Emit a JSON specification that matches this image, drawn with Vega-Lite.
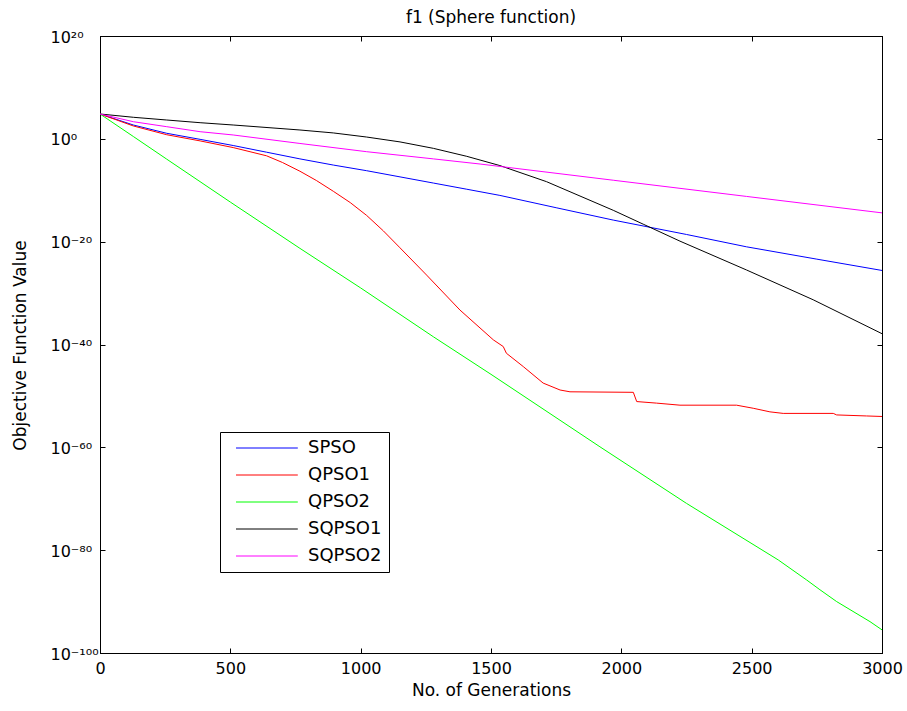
{
  "$schema": "https://vega.github.io/schema/vega-lite/v6.json",
  "width": 782,
  "height": 617,
  "autosize": "none",
  "padding": {"left": 100, "top": 36, "right": 25, "bottom": 58},
  "background": "white",
  "title": {"text": "f1 (Sphere function)", "fontSize": 17, "fontWeight": "normal", "font": "DejaVu Sans", "color": "black", "offset": 2},
  "config": {"view": {"stroke": "black", "strokeWidth": 1}, "font": "DejaVu Sans"},
  "data": {"values": [
    {"method": "SPSO", "gen": 0, "value": 6.76e4},
    {"method": "SPSO", "gen": 128, "value": 4.9e2},
    {"method": "SPSO", "gen": 256, "value": 1.2e1},
    {"method": "SPSO", "gen": 384, "value": 7.94e-1},
    {"method": "SPSO", "gen": 511, "value": 5.01e-2},
    {"method": "SPSO", "gen": 639, "value": 2.51e-3},
    {"method": "SPSO", "gen": 767, "value": 1.26e-4},
    {"method": "SPSO", "gen": 895, "value": 7.94e-6},
    {"method": "SPSO", "gen": 1023, "value": 6.31e-7},
    {"method": "SPSO", "gen": 1151, "value": 3.98e-8},
    {"method": "SPSO", "gen": 1279, "value": 2.51e-9},
    {"method": "SPSO", "gen": 1407, "value": 1.58e-10},
    {"method": "SPSO", "gen": 1534, "value": 1e-11},
    {"method": "SPSO", "gen": 1750, "value": 3.98e-14},
    {"method": "SPSO", "gen": 1969, "value": 1.58e-16},
    {"method": "SPSO", "gen": 2250, "value": 2.51e-19},
    {"method": "SPSO", "gen": 2480, "value": 1e-21},
    {"method": "SPSO", "gen": 2750, "value": 3.98e-24},
    {"method": "SPSO", "gen": 3000, "value": 2.51e-26},

    {"method": "QPSO1", "gen": 0, "value": 6.76e4},
    {"method": "QPSO1", "gen": 128, "value": 3.16e2},
    {"method": "QPSO1", "gen": 256, "value": 6.31},
    {"method": "QPSO1", "gen": 384, "value": 3.98e-1},
    {"method": "QPSO1", "gen": 511, "value": 2e-2},
    {"method": "QPSO1", "gen": 639, "value": 5.01e-4},
    {"method": "QPSO1", "gen": 700, "value": 2.51e-5},
    {"method": "QPSO1", "gen": 767, "value": 5.01e-7},
    {"method": "QPSO1", "gen": 830, "value": 7.94e-9},
    {"method": "QPSO1", "gen": 895, "value": 6.31e-11},
    {"method": "QPSO1", "gen": 960, "value": 3.98e-13},
    {"method": "QPSO1", "gen": 1023, "value": 1.26e-15},
    {"method": "QPSO1", "gen": 1087, "value": 1.26e-18},
    {"method": "QPSO1", "gen": 1151, "value": 6.31e-22},
    {"method": "QPSO1", "gen": 1253, "value": 3.16e-27},
    {"method": "QPSO1", "gen": 1381, "value": 5.01e-34},
    {"method": "QPSO1", "gen": 1509, "value": 7.94e-40},
    {"method": "QPSO1", "gen": 1547, "value": 3.98e-41},
    {"method": "QPSO1", "gen": 1559, "value": 2e-42},
    {"method": "QPSO1", "gen": 1624, "value": 5.01e-45},
    {"method": "QPSO1", "gen": 1700, "value": 3.16e-48},
    {"method": "QPSO1", "gen": 1765, "value": 1.41e-49},
    {"method": "QPSO1", "gen": 1803, "value": 6.31e-50},
    {"method": "QPSO1", "gen": 2046, "value": 5.01e-50},
    {"method": "QPSO1", "gen": 2059, "value": 7.94e-52},
    {"method": "QPSO1", "gen": 2135, "value": 3.98e-52},
    {"method": "QPSO1", "gen": 2225, "value": 1.58e-52},
    {"method": "QPSO1", "gen": 2442, "value": 1.58e-52},
    {"method": "QPSO1", "gen": 2506, "value": 3.98e-53},
    {"method": "QPSO1", "gen": 2570, "value": 7.94e-54},
    {"method": "QPSO1", "gen": 2621, "value": 3.98e-54},
    {"method": "QPSO1", "gen": 2813, "value": 3.98e-54},
    {"method": "QPSO1", "gen": 2826, "value": 2e-54},
    {"method": "QPSO1", "gen": 2941, "value": 1.26e-54},
    {"method": "QPSO1", "gen": 3000, "value": 1e-54},

    {"method": "QPSO2", "gen": 0, "value": 6.76e4},
    {"method": "QPSO2", "gen": 128, "value": 2.82},
    {"method": "QPSO2", "gen": 256, "value": 1.12e-4},
    {"method": "QPSO2", "gen": 500, "value": 5.01e-13},
    {"method": "QPSO2", "gen": 767, "value": 5.01e-22},
    {"method": "QPSO2", "gen": 1000, "value": 1e-29},
    {"method": "QPSO2", "gen": 1279, "value": 3.16e-39},
    {"method": "QPSO2", "gen": 1500, "value": 1.58e-46},
    {"method": "QPSO2", "gen": 1918, "value": 1.26e-60},
    {"method": "QPSO2", "gen": 2250, "value": 1.26e-71},
    {"method": "QPSO2", "gen": 2602, "value": 1.26e-82},
    {"method": "QPSO2", "gen": 2711, "value": 1.58e-86},
    {"method": "QPSO2", "gen": 2762, "value": 2e-88},
    {"method": "QPSO2", "gen": 2826, "value": 1e-90},
    {"method": "QPSO2", "gen": 2954, "value": 1.26e-94},
    {"method": "QPSO2", "gen": 3000, "value": 3.16e-96},

    {"method": "SQPSO1", "gen": 0, "value": 6.76e4},
    {"method": "SQPSO1", "gen": 128, "value": 1.55e4},
    {"method": "SQPSO1", "gen": 256, "value": 4.57e3},
    {"method": "SQPSO1", "gen": 384, "value": 1.38e3},
    {"method": "SQPSO1", "gen": 511, "value": 4.9e2},
    {"method": "SQPSO1", "gen": 767, "value": 5.25e1},
    {"method": "SQPSO1", "gen": 895, "value": 1.41e1},
    {"method": "SQPSO1", "gen": 1023, "value": 2.24},
    {"method": "SQPSO1", "gen": 1151, "value": 2.51e-1},
    {"method": "SQPSO1", "gen": 1279, "value": 1.41e-2},
    {"method": "SQPSO1", "gen": 1407, "value": 3.98e-4},
    {"method": "SQPSO1", "gen": 1534, "value": 6.31e-6},
    {"method": "SQPSO1", "gen": 1713, "value": 4.68e-9},
    {"method": "SQPSO1", "gen": 1969, "value": 1.26e-14},
    {"method": "SQPSO1", "gen": 2084, "value": 2.51e-17},
    {"method": "SQPSO1", "gen": 2225, "value": 1.26e-20},
    {"method": "SQPSO1", "gen": 2480, "value": 3.16e-26},
    {"method": "SQPSO1", "gen": 2736, "value": 5.01e-32},
    {"method": "SQPSO1", "gen": 3000, "value": 1.26e-38},

    {"method": "SQPSO2", "gen": 0, "value": 6.76e4},
    {"method": "SQPSO2", "gen": 128, "value": 2.14e3},
    {"method": "SQPSO2", "gen": 256, "value": 2.29e2},
    {"method": "SQPSO2", "gen": 384, "value": 2.45e1},
    {"method": "SQPSO2", "gen": 511, "value": 5.62},
    {"method": "SQPSO2", "gen": 767, "value": 1.26e-1},
    {"method": "SQPSO2", "gen": 1023, "value": 3.16e-3},
    {"method": "SQPSO2", "gen": 1279, "value": 1.26e-4},
    {"method": "SQPSO2", "gen": 1458, "value": 1.26e-5},
    {"method": "SQPSO2", "gen": 1969, "value": 8.91e-9},
    {"method": "SQPSO2", "gen": 2480, "value": 6.31e-12},
    {"method": "SQPSO2", "gen": 3000, "value": 3.98e-15}
  ]},
  "layer": [
    {
      "mark": {"type": "line", "strokeWidth": 1},
      "encoding": {
        "x": {
          "field": "gen", "type": "quantitative",
          "scale": {"domain": [0, 3000], "nice": false, "zero": false},
          "axis": {
            "orient": "bottom", "values": [0, 500, 1000, 1500, 2000, 2500, 3000], "format": "d",
            "title": "No. of Generations", "grid": false, "tickSize": -5,
            "labelPadding": 12, "labelFlush": false, "labelOverlap": false,
            "domainColor": "black", "tickColor": "black", "labelColor": "black",
            "labelFontSize": 16, "labelFont": "DejaVu Sans",
            "titleFontSize": 17, "titleFontWeight": "normal", "titleColor": "black",
            "titleFont": "DejaVu Sans", "titleY": 37, "titleBaseline": "middle"
          }
        },
        "y": {
          "field": "value", "type": "quantitative",
          "scale": {"type": "log", "domain": [1e-100, 1e20], "nice": false},
          "axis": {
            "orient": "left", "values": [1e-100, 1e-80, 1e-60, 1e-40, 1e-20, 1, 1e20],
            "labelExpr": "'10' + (datum.value >= 1e19 ? '²⁰' : datum.value >= 0.5 ? '⁰' : datum.value >= 1e-21 ? '⁻²⁰' : datum.value >= 1e-41 ? '⁻⁴⁰' : datum.value >= 1e-61 ? '⁻⁶⁰' : datum.value >= 1e-81 ? '⁻⁸⁰' : '⁻¹⁰⁰')",
            "title": "Objective Function Value", "grid": false, "tickSize": -5,
            "labelPadding": 55, "labelAlign": "left", "labelOffset": 1, "labelOverlap": false, "labelFlush": false,
            "domainColor": "black", "tickColor": "black", "labelColor": "black",
            "labelFontSize": 16, "labelFont": "DejaVu Sans",
            "titleFontSize": 17, "titleFontWeight": "normal", "titleColor": "black",
            "titleFont": "DejaVu Sans", "titleX": -80, "titleY": 309, "titleBaseline": "middle", "titleAngle": -90
          }
        },
        "color": {
          "field": "method", "type": "nominal",
          "scale": {"domain": ["SPSO", "QPSO1", "QPSO2", "SQPSO1", "SQPSO2"], "range": ["#0000ff", "#ff0000", "#00ff00", "#000000", "#ff00ff"]},
          "legend": {
            "title": null, "orient": "none", "legendX": 120, "legendY": 396,
            "strokeColor": "black", "fillColor": "white", "padding": 7,
            "symbolType": "M0,0H10.3", "symbolSize": 144, "symbolStrokeWidth": 1,
            "labelFontSize": 18, "labelFont": "DejaVu Sans", "labelColor": "black",
            "rowPadding": 9, "labelOffset": 63,
            "labelExpr": "datum.label + '\u00a0\u00a0'"
          }
        }
      }
    },
    {
      "mark": {"type": "point", "opacity": 0},
      "encoding": {
        "x": {
          "field": "gen", "type": "quantitative",
          "scale": {"domain": [0, 3000], "nice": false, "zero": false},
          "axis": {"orient": "top", "values": [0, 500, 1000, 1500, 2000, 2500, 3000], "labels": false, "title": null, "grid": false, "tickSize": -5, "domainColor": "black", "tickColor": "black"}
        },
        "y": {
          "field": "value", "type": "quantitative",
          "scale": {"type": "log", "domain": [1e-100, 1e20], "nice": false},
          "axis": {"orient": "right", "values": [1e-100, 1e-80, 1e-60, 1e-40, 1e-20, 1, 1e20], "labels": false, "title": null, "grid": false, "tickSize": -5, "domainColor": "black", "tickColor": "black"}
        }
      }
    }
  ],
  "resolve": {"axis": {"x": "independent", "y": "independent"}}
}
